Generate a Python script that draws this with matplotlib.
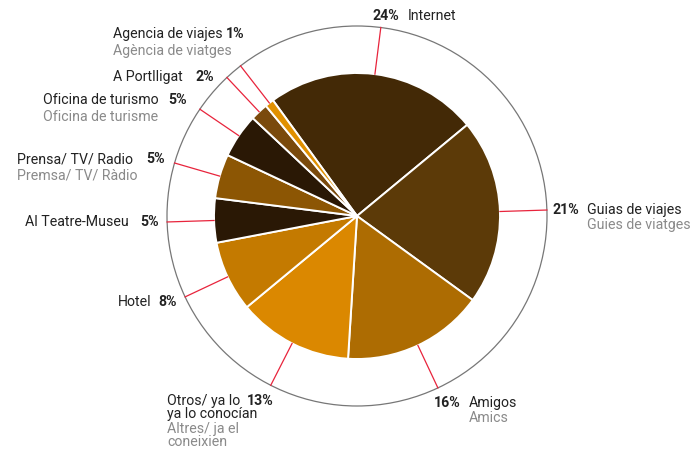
import matplotlib.pyplot as plt
import numpy as np
from matplotlib.patches import Circle

plt.rcParams["font.family"] = ["Roboto", "DejaVu Sans"]

# data
labels_es = ["Internet", "Guias de viajes", "Amigos", "Otros/ ya lo\nya lo conocían",
             "Hotel", "Al Teatre-Museu", "Prensa/ TV/ Radio", "Oficina de turismo",
             "A Portlligat", "Agencia de viajes"]
labels_ca = ["", "Guies de viatges", "Amics", "Altres/ ja el\nconeixien",
             "", "", "Premsa/ TV/ Ràdio", "Oficina de turisme",
             "", "Agència de viatges"]
shares = [24, 21, 16, 13, 8, 5, 5, 5, 2, 1]
colors = ["#432906", "#5c3a08", "#ad6c02", "#db8800", "#c47a00",
          "#2a1805", "#8c5604", "#2a1805", "#7a4a0c", "#e09000"]

W, H = 691, 452
CX, CY = 357, H - 217
R_PIE, R_OUT = 143, 190
DARK, GREY, RED = "#222222", "#8a8a8a", "#e8243c"
FS = 10.2


def py(y):
    return H - y


fig = plt.figure(figsize=(W / 100, H / 100), dpi=100)
ax = fig.add_axes([0, 0, 1, 1])

wedges, _ = ax.pie(shares, colors=colors, startangle=126, counterclock=False,
                   center=(CX, CY), radius=R_PIE,
                   wedgeprops=dict(edgecolor="white", linewidth=1.4))
ax.set_xlim(0, W)
ax.set_ylim(0, H)
ax.set_aspect("equal")
ax.axis("off")

ax.add_patch(Circle((CX, CY), R_OUT, fill=False, edgecolor="#777777", lw=0.9))

# red leader lines at each wedge's middle angle
for w in wedges:
    a = np.deg2rad((w.theta1 + w.theta2) / 2)
    ax.plot([CX + R_PIE * np.cos(a), CX + R_OUT * np.cos(a)],
            [CY + R_PIE * np.sin(a), CY + R_OUT * np.sin(a)],
            color=RED, lw=0.9)


def lab(x, y, txt, bold=False, color=DARK, ha="left"):
    ax.text(x, py(y), txt, fontsize=FS, color=color, ha=ha, va="center",
            fontweight="bold" if bold else "normal")


def multi(x, y, txt, color=DARK, step=13):
    for i, line in enumerate(txt.split("\n")):
        lab(x, y + i * step, line, color=color)


# Internet
lab(373, 16, f"{shares[0]}%", bold=True)
lab(408, 16, labels_es[0])
# Guias
lab(553, 210, f"{shares[1]}%", bold=True)
lab(587, 210, labels_es[1])
lab(587, 225, labels_ca[1], color=GREY)
# Amigos
lab(434, 403, f"{shares[2]}%", bold=True)
lab(469, 403, labels_es[2])
lab(469, 418, labels_ca[2], color=GREY)
# Otros
multi(167, 401, labels_es[3])
lab(247, 401, f"{shares[3]}%", bold=True)
multi(167, 429, labels_ca[3], color=GREY)
# Hotel
lab(152, 302, labels_es[4], ha="right")
lab(158, 302, f"{shares[4]}%", bold=True)
# Al Teatre-Museu
lab(129, 222, labels_es[5], ha="right")
lab(140, 222, f"{shares[5]}%", bold=True)
# Prensa
lab(17, 159, labels_es[6])
lab(146, 159, f"{shares[6]}%", bold=True)
lab(17, 175, labels_ca[6], color=GREY)
# Oficina
lab(43, 100, labels_es[7])
lab(168, 100, f"{shares[7]}%", bold=True)
lab(43, 117, labels_ca[7], color=GREY)
# Portlligat
lab(113, 77, labels_es[8])
lab(196, 77, f"{shares[8]}%", bold=True)
# Agencia
lab(113, 34, labels_es[9])
lab(226, 34, f"{shares[9]}%", bold=True)
lab(113, 51, labels_ca[9], color=GREY)

fig.savefig("out.png", dpi=100)
